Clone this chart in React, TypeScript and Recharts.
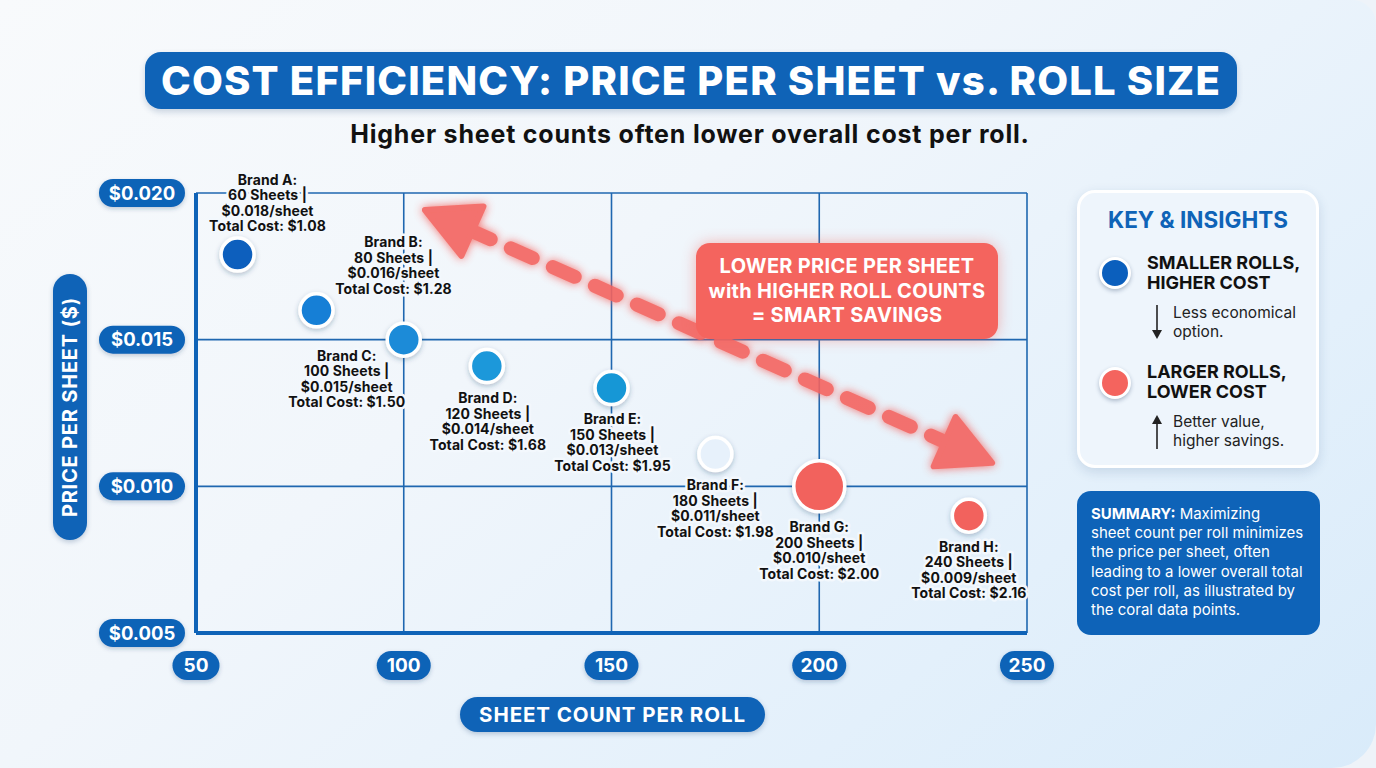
import React from "react";
import {
  ScatterChart,
  Scatter,
  XAxis,
  YAxis,
  CartesianGrid,
  ReferenceLine,
} from "recharts";

// values
const brands = ["Brand A", "Brand B", "Brand C", "Brand D", "Brand E", "Brand F", "Brand G", "Brand H"];
const sheetCounts = [60, 80, 100, 120, 150, 180, 200, 240];
const pricePerSheet = [0.018, 0.016, 0.015, 0.014, 0.013, 0.011, 0.01, 0.009];
const totalCosts = [1.08, 1.28, 1.5, 1.68, 1.95, 1.98, 2.0, 2.16];
// where the dots actually sit in the picture
const plottedSheets = [60, 79, 100, 120, 150, 175, 200, 236];
const plottedPrice = [0.0179, 0.016, 0.015, 0.0141, 0.01335, 0.0111, 0.01, 0.009];

const xTicks = [50, 100, 150, 200, 250];
const yTicks = [0.005, 0.01, 0.015, 0.02];

// dashed "savings" arrow, in data coordinates
const arrowStart = { x: 105.1, y: 0.01942 };
const arrowEnd = { x: 241.6, y: 0.0108 };

const summaryLines = [
  "sheet count per roll minimizes",
  "the price per sheet, often",
  "leading to a lower overall total",
  "cost per roll, as illustrated by",
  "the coral data points.",
];

// styling per point
const pointColors = ["#0b5fbd", "#157fd6", "#1a8bd8", "#1d98da", "#1597d6", "#e7f1fb", "#f2625d", "#f2625d"];
const pointRadii = [15, 15, 15, 15, 15, 15, 24, 15];
const labelOffsets: [number, number][] = [
  [30, -70],
  [77, -63],
  [-57, 21],
  [1, 37],
  [1, 36],
  [0, 36],
  [0, 46],
  [0, 36],
];

const BLUE = "#0f63b7";
const CORAL = "#f4645e";
const FONT = "Inter, 'Open Sans', sans-serif";

const data = brands.map((b, i) => ({
  idx: i,
  x: plottedSheets[i],
  y: plottedPrice[i],
  lines: [
    `${b}:`,
    `${sheetCounts[i]} Sheets |`,
    `$${pricePerSheet[i].toFixed(3)}/sheet`,
    `Total Cost: $${totalCosts[i].toFixed(2)}`,
  ],
}));

function PointShape(props: any) {
  const { cx, cy, payload } = props;
  const i = payload.idx;
  const [dx, dy] = labelOffsets[i];
  return (
    <g>
      <circle
        cx={cx}
        cy={cy}
        r={pointRadii[i] + 1.5}
        fill={pointColors[i]}
        stroke="#fff"
        strokeWidth={3.5}
        filter="url(#dotShadow)"
      />
      <text
        x={cx + dx}
        y={cy + dy}
        textAnchor="middle"
        fontFamily={FONT}
        fontWeight={700}
        fontSize={14}
        letterSpacing={0.1}
        fill="#111"
        stroke="#f3f8fd"
        strokeWidth={5}
        strokeLinejoin="round"
        style={{ paintOrder: "stroke" }}
      >
        {payload.lines.map((l: string, k: number) => (
          <tspan key={k} x={cx + dx} dy={k === 0 ? 0 : 15.5}>
            {l}
          </tspan>
        ))}
      </text>
    </g>
  );
}

function YTick(props: any) {
  const { y, payload } = props;
  return (
    <g>
      <rect x={99} y={y - 14} width={86} height={28} rx={14} fill={BLUE} filter="url(#pillShadow)" />
      <text x={142} y={y + 6.5} textAnchor="middle" fill="#fff" fontFamily={FONT} fontWeight={700} fontSize={18.5}>
        {`$${payload.value.toFixed(3)}`}
      </text>
    </g>
  );
}

function XTick(props: any) {
  const { x, payload } = props;
  const w = payload.value >= 100 ? 54 : 47;
  return (
    <g>
      <rect x={x - w / 2} y={651} width={w} height={29} rx={14.5} fill={BLUE} filter="url(#pillShadow)" />
      <text x={x} y={672} textAnchor="middle" fill="#fff" fontFamily={FONT} fontWeight={700} fontSize={19}>
        {payload.value}
      </text>
    </g>
  );
}

function SavingsArrow(props: any) {
  const { x1, y1, x2, y2 } = props;
  if (x1 == null) return null;
  const len = Math.hypot(x2 - x1, y2 - y1);
  const ux = (x2 - x1) / len;
  const uy = (y2 - y1) / len;
  const px = -uy;
  const py = ux;
  const hl = 52;
  const hw = 27;
  const head = (tx: number, ty: number, dir: number) => {
    const bx = tx + ux * hl * dir;
    const by = ty + uy * hl * dir;
    return `${tx},${ty} ${bx + px * hw},${by + py * hw} ${bx - px * hw},${by - py * hw}`;
  };
  return (
    <g filter="url(#arrowGlow)" opacity={0.9}>
      <line
        x1={x1 + ux * (hl - 4)}
        y1={y1 + uy * (hl - 4)}
        x2={x2 - ux * (hl - 4)}
        y2={y2 - uy * (hl - 4)}
        stroke={CORAL}
        strokeWidth={14}
        strokeDasharray="24 22"
        strokeLinecap="round"
      />
      <polygon points={head(x1, y1, 1)} fill={CORAL} stroke={CORAL} strokeWidth={6} strokeLinejoin="round" />
      <polygon points={head(x2, y2, -1)} fill={CORAL} stroke={CORAL} strokeWidth={6} strokeLinejoin="round" />
    </g>
  );
}

const abs = (s: React.CSSProperties): React.CSSProperties => ({ position: "absolute", ...s });

export default function App() {
  return (
    <div
      style={{
        position: "absolute",
        left: 0,
        top: 0,
        width: 1376,
        height: 768,
        overflow: "hidden",
        background: "#eef3f9",
        fontFamily: FONT,
      }}
    >
      <svg width={0} height={0} style={{ position: "absolute" }}>
        <defs>
          <filter id="dotShadow" x="-50%" y="-50%" width="200%" height="200%">
            <feDropShadow dx={0} dy={2} stdDeviation={2.5} floodColor="#1d3d66" floodOpacity={0.3} />
          </filter>
          <filter id="pillShadow" x="-30%" y="-50%" width="160%" height="200%">
            <feDropShadow dx={0} dy={2} stdDeviation={2} floodColor="#1d3d66" floodOpacity={0.25} />
          </filter>
          <filter id="arrowGlow" x="-20%" y="-40%" width="140%" height="180%">
            <feGaussianBlur in="SourceGraphic" stdDeviation={5} result="b" />
            <feMerge>
              <feMergeNode in="b" />
              <feMergeNode in="SourceGraphic" />
            </feMerge>
          </filter>
        </defs>
      </svg>
      <div
        style={abs({
          left: 0,
          top: 0,
          width: 1376,
          height: 768,
          borderRadius: "0 24px 44px 0",
          background: "linear-gradient(140deg, #f8fafc 0%, #f1f6fb 40%, #e3f0fb 75%, #d9ebfa 100%)",
        })}
      />

      <div
        style={abs({
          left: 145,
          top: 52,
          width: 1092,
          height: 57,
          borderRadius: 16,
          background: BLUE,
          color: "#fff",
          fontSize: 40,
          fontWeight: 800,
          display: "flex",
          alignItems: "center",
          justifyContent: "center",
          letterSpacing: 1.2,
          boxShadow: "0 3px 6px rgba(20,60,110,0.2)",
        })}
      >
        COST EFFICIENCY: PRICE PER SHEET vs. ROLL SIZE
      </div>
      <div
        style={abs({
          left: 0,
          width: 1380,
          top: 119,
          textAlign: "center",
          fontSize: 25,
          fontWeight: 700,
          letterSpacing: 0.8,
          color: "#111",
        })}
      >
        Higher sheet counts often lower overall cost per roll.
      </div>

      <div style={abs({ left: 0, top: 0 })}>
        <ScatterChart width={1376} height={768} margin={{ top: 193, right: 349, bottom: 75, left: 96 }}>
          <CartesianGrid stroke="#1f67b0" strokeWidth={1.6} />
          <XAxis
            type="number"
            dataKey="x"
            domain={[50, 250]}
            ticks={xTicks}
            interval={0}
            height={60}
            axisLine={{ stroke: BLUE, strokeWidth: 4 }}
            tickLine={false}
            tick={<XTick />}
          />
          <YAxis
            type="number"
            dataKey="y"
            domain={[0.005, 0.02]}
            ticks={yTicks}
            interval={0}
            width={100}
            axisLine={{ stroke: BLUE, strokeWidth: 4 }}
            tickLine={false}
            tick={<YTick />}
          />
          <ReferenceLine segment={[arrowStart, arrowEnd]} shape={(p: any) => <SavingsArrow {...p} />} />
          <Scatter data={data} shape={(p: any) => <PointShape {...p} />} isAnimationActive={false} />
        </ScatterChart>
      </div>

      {/* axis titles */}
      <div
        style={abs({
          left: 53,
          top: 274,
          width: 34,
          height: 266,
          borderRadius: 17,
          background: BLUE,
          boxShadow: "0 2px 5px rgba(20,60,110,0.25)",
        })}
      >
        <div
          style={abs({
            left: 17,
            top: 133,
            transform: "translate(-50%, -50%) rotate(-90deg)",
            whiteSpace: "nowrap",
            color: "#fff",
            fontSize: 20,
            fontWeight: 700,
            letterSpacing: 0.8,
          })}
        >
          PRICE PER SHEET ($)
        </div>
      </div>
      <div
        style={abs({
          left: 460,
          top: 697,
          width: 305,
          height: 35,
          borderRadius: 17.5,
          background: BLUE,
          color: "#fff",
          fontSize: 20.5,
          fontWeight: 700,
          letterSpacing: 0.9,
          display: "flex",
          alignItems: "center",
          justifyContent: "center",
          boxShadow: "0 2px 5px rgba(20,60,110,0.25)",
        })}
      >
        SHEET COUNT PER ROLL
      </div>

      {/* callout */}
      <div
        style={abs({
          left: 696,
          top: 243,
          width: 302,
          height: 96,
          borderRadius: 14,
          background: CORAL,
          color: "#fff",
          fontSize: 20,
          fontWeight: 700,
          letterSpacing: 0.3,
          lineHeight: "24.5px",
          textAlign: "center",
          display: "flex",
          flexDirection: "column",
          justifyContent: "center",
          boxShadow: "0 0 14px rgba(244,100,94,0.45)",
        })}
      >
        <div>LOWER PRICE PER SHEET</div>
        <div>with HIGHER ROLL COUNTS</div>
        <div>= SMART SAVINGS</div>
      </div>

      {/* key card */}
      <div
        style={abs({
          left: 1077,
          top: 190,
          width: 242,
          height: 278,
          borderRadius: 18,
          background: "#eef5fc",
          border: "3px solid #fff",
          boxSizing: "border-box",
          boxShadow: "0 4px 12px rgba(30,70,120,0.15)",
        })}
      >
        <div
          style={abs({
            left: 0,
            width: 236,
            top: 13,
            textAlign: "center",
            color: BLUE,
            fontSize: 22.5,
            fontWeight: 700,
          })}
        >
          KEY &amp; INSIGHTS
        </div>
        <div
          style={abs({
            left: 19,
            top: 64,
            width: 32,
            height: 32,
            borderRadius: 16,
            background: "#0b5fbd",
            border: "3px solid #fff",
            boxSizing: "border-box",
            boxShadow: "0 2px 4px rgba(20,50,90,0.3)",
          })}
        />
        <div style={abs({ left: 67, top: 60, fontSize: 18, fontWeight: 700, color: "#111", lineHeight: "20px" })}>
          SMALLER ROLLS,
          <br />
          HIGHER COST
        </div>
        <svg style={abs({ left: 70, top: 112 })} width={14} height={36}>
          <line x1={7} y1={0} x2={7} y2={28} stroke="#222" strokeWidth={1.6} />
          <polygon points="2,25 12,25 7,34" fill="#222" />
        </svg>
        <div style={abs({ left: 93, top: 110, fontSize: 15.5, color: "#222", lineHeight: "19px" })}>
          Less economical
          <br />
          option.
        </div>
        <div
          style={abs({
            left: 19,
            top: 174,
            width: 32,
            height: 32,
            borderRadius: 16,
            background: CORAL,
            border: "3px solid #fff",
            boxSizing: "border-box",
            boxShadow: "0 2px 4px rgba(20,50,90,0.3)",
          })}
        />
        <div style={abs({ left: 67, top: 169, fontSize: 18, fontWeight: 700, color: "#111", lineHeight: "20px" })}>
          LARGER ROLLS,
          <br />
          LOWER COST
        </div>
        <svg style={abs({ left: 70, top: 222 })} width={14} height={36}>
          <polygon points="2,9 12,9 7,0" fill="#222" />
          <line x1={7} y1={6} x2={7} y2={34} stroke="#222" strokeWidth={1.6} />
        </svg>
        <div style={abs({ left: 93, top: 219, fontSize: 15.5, color: "#222", lineHeight: "19px" })}>
          Better value,
          <br />
          higher savings.
        </div>
      </div>

      {/* summary */}
      <div
        style={abs({
          left: 1077,
          top: 491,
          width: 243,
          height: 144,
          borderRadius: 14,
          background: "#0e63b8",
          color: "#fff",
          fontSize: 15,
          lineHeight: "19.2px",
          padding: "13px 6px 0 14px",
          boxSizing: "border-box",
          whiteSpace: "nowrap",
        })}
      >
        <div>
          <b>SUMMARY:</b> Maximizing
        </div>
        {summaryLines.map((l) => (
          <div key={l}>{l}</div>
        ))}
      </div>
    </div>
  );
}
